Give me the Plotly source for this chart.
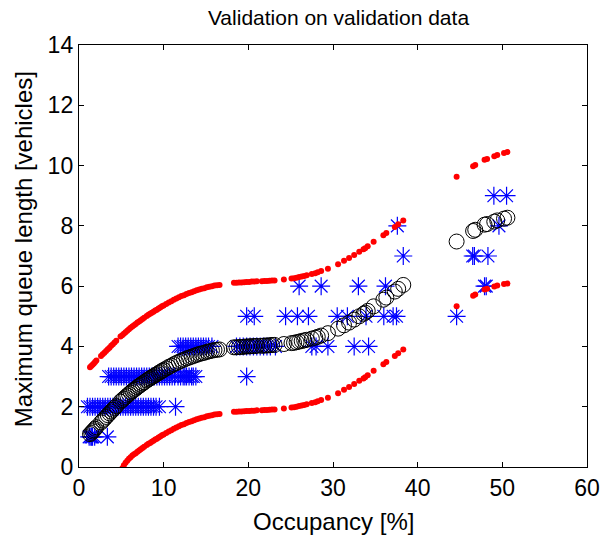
import plotly.graph_objects as go

# ---------------- data ----------------
# model evaluation points (occupancy %) with predicted queue and prediction-interval bounds
occ_model = [1.3, 1.45, 1.6, 1.75, 1.9, 2.05, 2.6, 2.8, 3.0, 3.2, 3.4, 3.6, 3.8, 4.0, 4.2, 4.4,
             4.9, 5.1, 5.3, 5.5, 5.7, 5.9, 6.1, 6.3, 6.5, 6.7, 6.9, 7.1, 7.3, 7.5, 7.7,
             8.0, 8.2, 8.4, 8.6, 8.8, 9.0, 9.2, 9.4, 9.6, 9.8, 10.0, 10.3, 10.6, 10.9,
             11.2, 11.5, 11.8, 12.1, 12.4, 12.7, 13.0, 13.3, 13.6, 13.9, 14.2, 14.5,
             14.8, 15.1, 15.4, 15.7, 16.0, 16.3, 16.6,
             18.3, 18.6, 18.9, 19.2, 19.5, 19.8, 20.1, 20.4, 20.7, 21.0, 21.6, 21.9,
             22.2, 22.5, 22.8, 23.1, 24.2, 25.1, 25.4, 25.7, 26.0, 26.3, 26.6, 26.9,
             27.5, 27.9, 28.2, 28.6, 29.4, 30.6, 31.3, 31.9, 32.5, 33.1, 33.6, 33.8,
             34.1, 34.8, 35.95, 36.3, 37.3, 37.7, 38.3,
             44.6, 46.55, 46.8, 47.9, 48.2, 49.05, 49.4, 50.2, 50.6]

queue_pred = [1.09, 1.13, 1.18, 1.22, 1.27, 1.32, 1.48, 1.54, 1.60, 1.66, 1.72, 1.78, 1.84, 1.90, 1.96, 2.02,
              2.17, 2.22, 2.27, 2.32, 2.37, 2.42, 2.47, 2.52, 2.56, 2.60, 2.65, 2.69, 2.73, 2.77, 2.81,
              2.87, 2.91, 2.94, 2.98, 3.01, 3.05, 3.08, 3.12, 3.15, 3.19, 3.22, 3.27, 3.32, 3.36,
              3.41, 3.45, 3.49, 3.53, 3.56, 3.60, 3.63, 3.66, 3.69, 3.72, 3.75, 3.77,
              3.79, 3.82, 3.84, 3.86, 3.88, 3.89, 3.90,
              3.97, 3.97, 3.98, 3.98, 3.99, 4.00, 4.00, 4.01, 4.01, 4.02, 4.02, 4.03,
              4.03, 4.04, 4.05, 4.05, 4.08, 4.11, 4.12, 4.14, 4.16, 4.18, 4.20, 4.22,
              4.26, 4.29, 4.32, 4.36, 4.44, 4.59, 4.70, 4.79, 4.89, 5.00, 5.08, 5.12,
              5.18, 5.33, 5.55, 5.62, 5.82, 5.91, 6.04,
              7.48, 7.83, 7.87, 8.04, 8.06, 8.14, 8.18, 8.24, 8.27]

queue_upper = [3.31, 3.35, 3.39, 3.43, 3.48, 3.53, 3.68, 3.74, 3.79, 3.85, 3.91, 3.96, 4.02, 4.07, 4.13, 4.19,
               4.33, 4.37, 4.42, 4.47, 4.52, 4.57, 4.62, 4.66, 4.70, 4.74, 4.79, 4.83, 4.87, 4.91, 4.95,
               5.01, 5.05, 5.08, 5.12, 5.15, 5.19, 5.22, 5.26, 5.29, 5.33, 5.36, 5.41, 5.46, 5.50,
               5.55, 5.59, 5.63, 5.67, 5.70, 5.74, 5.77, 5.80, 5.83, 5.86, 5.89, 5.91,
               5.93, 5.96, 5.98, 6.00, 6.02, 6.03, 6.04,
               6.11, 6.11, 6.12, 6.12, 6.13, 6.14, 6.14, 6.15, 6.15, 6.16, 6.16, 6.17,
               6.17, 6.18, 6.19, 6.19, 6.22, 6.25, 6.26, 6.28, 6.30, 6.32, 6.34, 6.36,
               6.40, 6.43, 6.46, 6.50, 6.58, 6.73, 6.84, 6.93, 7.03, 7.14, 7.22, 7.26,
               7.32, 7.47, 7.69, 7.76, 7.96, 8.05, 8.18,
               9.63, 9.98, 10.02, 10.19, 10.22, 10.31, 10.35, 10.42, 10.45]

queue_lower = [-1.13, -1.08, -1.03, -0.98, -0.93, -0.88, -0.71, -0.65, -0.58, -0.52, -0.46, -0.40, -0.33, -0.27, -0.21, -0.15,
               -0.14, -0.05, 0.06, 0.14, 0.21, 0.27, 0.32, 0.38, 0.42, 0.46, 0.51, 0.55, 0.59, 0.63, 0.67,
               0.73, 0.77, 0.80, 0.84, 0.87, 0.91, 0.94, 0.98, 1.01, 1.05, 1.08, 1.13, 1.18, 1.22,
               1.27, 1.31, 1.35, 1.39, 1.42, 1.46, 1.49, 1.52, 1.55, 1.58, 1.61, 1.63,
               1.65, 1.68, 1.70, 1.72, 1.74, 1.75, 1.76,
               1.83, 1.83, 1.84, 1.84, 1.85, 1.86, 1.86, 1.87, 1.87, 1.88, 1.88, 1.89,
               1.89, 1.90, 1.91, 1.91, 1.94, 1.97, 1.98, 2.00, 2.02, 2.04, 2.06, 2.08,
               2.12, 2.15, 2.18, 2.22, 2.30, 2.45, 2.56, 2.65, 2.75, 2.86, 2.94, 2.98,
               3.04, 3.19, 3.41, 3.48, 3.68, 3.77, 3.90,
               5.33, 5.68, 5.72, 5.89, 5.91, 5.99, 6.02, 6.07, 6.09]

# observed (validation) data
occ_obs = ([1.2, 1.4, 1.5, 1.6, 1.85, 3.35] +
           [1.0, 1.3, 1.6, 1.9, 2.2, 2.5, 2.8, 3.1, 3.4, 3.7, 4.0, 4.3, 4.6, 4.9, 5.2, 5.5, 5.8,
            6.1, 6.4, 6.7, 7.0, 7.3, 7.6, 7.9, 8.2, 8.5, 8.8, 9.1, 9.5, 11.4] +
           [3.5, 3.8, 4.1, 4.4, 4.7, 5.0, 5.3, 5.6, 5.9, 6.2, 6.5, 6.8, 7.1, 7.4, 7.7, 8.0, 8.3,
            8.6, 8.9, 9.2, 9.5, 9.8, 10.1, 10.4, 10.7, 11.0, 11.3, 11.7, 12.0, 12.3, 12.5, 12.7,
            13.0, 13.3, 13.5, 13.8, 19.8] +
           [11.7, 12.0, 12.3, 12.6, 12.9, 13.2, 13.5, 13.8, 14.1, 14.4, 14.7, 15.0, 15.3, 15.7,
            18.6, 19.0, 19.4, 19.8, 20.2, 20.6, 21.0, 21.4, 21.8, 22.2, 22.6, 23.2,
            27.5, 28.0, 29.4, 32.5, 34.2] +
           [19.8, 20.7, 24.4, 25.8, 27.1, 30.5, 31.7, 33.9, 36.0, 37.1, 37.5, 44.6] +
           [26.0, 28.6, 33.0, 36.2, 47.9, 48.1] +
           [38.3, 46.5, 46.7, 48.3] +
           [37.6, 49.6] +
           [49.0, 50.5])
queue_obs = ([1] * 6 + [2] * 30 + [3] * 37 + [4] * 31 + [5] * 12 + [6] * 6 + [7] * 4 + [8] * 2 + [9] * 2)

x_ticks = [0, 10, 20, 30, 40, 50, 60]
y_ticks = [0, 2, 4, 6, 8, 10, 12, 14]

title_text = "Validation on validation data"
x_label = "Occupancy [%]"
y_label = "Maximum queue length [vehicles]"

# ---------------- figure ----------------
FONT = "Liberation Sans, Arial, Helvetica, sans-serif"
W, H = 612, 535
L, R, T, B = 79, 14, 45, 68

fig = go.Figure()
fig.add_trace(go.Scatter(
    x=occ_obs, y=queue_obs, mode="markers", name="observed",
    marker=dict(symbol="asterisk-open", size=15, color="#0000FF",
                line=dict(color="#0000FF", width=1.2))))
fig.add_trace(go.Scatter(
    x=occ_model, y=queue_pred, mode="markers", name="predicted",
    marker=dict(symbol="circle-open", size=15, color="#000000",
                line=dict(color="#000000", width=1))))
fig.add_trace(go.Scatter(
    x=occ_model, y=queue_upper, mode="markers", name="upper",
    marker=dict(symbol="circle", size=6, color="#FF0000", line=dict(width=0))))
fig.add_trace(go.Scatter(
    x=occ_model, y=queue_lower, mode="markers", name="lower",
    marker=dict(symbol="circle", size=6, color="#FF0000", line=dict(width=0))))

axis_common = dict(
    showgrid=False, zeroline=False, showline=True, linecolor="black", linewidth=1.4,
    mirror="ticks", ticks="inside", ticklen=5, tickwidth=1, tickcolor="black",
    tickfont=dict(family=FONT, size=23, color="black"),
)
fig.update_xaxes(range=[0, 60], tickvals=x_ticks, ticktext=[str(v) for v in x_ticks],
                 **axis_common)
fig.update_yaxes(range=[0, 14], tickvals=y_ticks, ticktext=[str(v) for v in y_ticks],
                 **axis_common)

fig.update_layout(
    width=W, height=H,
    margin=dict(l=L, r=R, t=T, b=B, pad=0),
    paper_bgcolor="white", plot_bgcolor="white",
    showlegend=False,
    title=dict(text=title_text, x=(L + (W - R)) / 2 / W, xanchor="center",
               y=1 - 18 / H, yanchor="middle",
               font=dict(family=FONT, size=21, color="black")),
    annotations=[
        dict(text=x_label, xref="paper", yref="paper", x=0.5, y=-(521 - (H - B)) / (H - T - B),
             xanchor="center", yanchor="middle", showarrow=False,
             font=dict(family=FONT, size=24, color="black")),
        dict(text=y_label, xref="paper", yref="paper", x=-(L - 22) / (W - L - R),
             y=(H - B - 249) / (H - T - B), xanchor="center", yanchor="middle",
             textangle=-90, showarrow=False,
             font=dict(family=FONT, size=24, color="black")),
    ],
)

fig.write_html("out.html")
